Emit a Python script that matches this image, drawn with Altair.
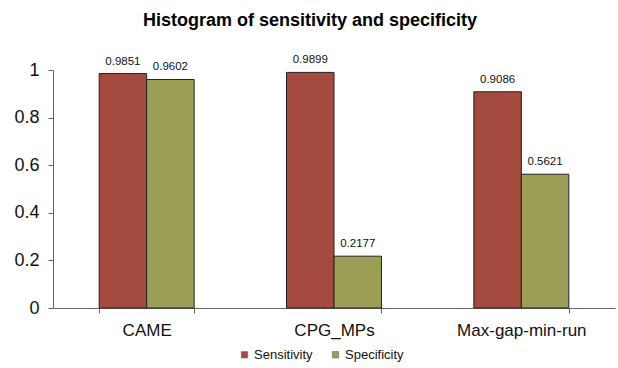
import altair as alt
import pandas as pd

methods = ["CAME", "CPG_MPs", "Max-gap-min-run"]
sensitivity = [0.9851, 0.9899, 0.9086]
specificity = [0.9602, 0.2177, 0.5621]
series = ["Sensitivity", "Specificity"]
colors = ["#A54A3E", "#9B9F55"]

rows = []
for m, s, p in zip(methods, sensitivity, specificity):
    rows.append({"method": m, "metric": "Sensitivity", "value": s, "label": f"{s:.4f}"})
    rows.append({"method": m, "metric": "Specificity", "value": p, "label": f"{p:.4f}"})
df = pd.DataFrame(rows)

FONT = "Liberation Sans"

x = alt.X("method:N", sort=methods, title=None,
          scale=alt.Scale(paddingInner=0.493, paddingOuter=0.2465),
          axis=alt.Axis(labelAngle=0, labelFontSize=17, labelFont=FONT, labelColor="#111",
                        tickBand="extent", tickSize=5, tickColor="#666", domainColor="#666",
                        labelPadding=9))
xo = alt.XOffset("metric:N", sort=series, scale=alt.Scale(paddingInner=0, paddingOuter=0))
y = alt.Y("value:Q", title=None,
          scale=alt.Scale(domain=[0, 1], nice=False),
          axis=alt.Axis(values=[0, 0.2, 0.4, 0.6, 0.8, 1], grid=False, labelFontSize=18,
                        labelFont=FONT, labelColor="#111", tickSize=5, tickColor="#666",
                        domainColor="#666", labelPadding=9,
                        labelExpr="datum.value == 0 ? '0' : datum.value == 1 ? '1' : format(datum.value, '.1f')"))

bars = alt.Chart(df).mark_bar(stroke="#222", strokeWidth=1).encode(
    x=x, xOffset=xo, y=y,
    color=alt.Color("metric:N", sort=series,
                    scale=alt.Scale(domain=series, range=colors),
                    legend=alt.Legend(title=None, orient="none", direction="horizontal",
                                      legendX=185, legendY=278, symbolType="square",
                                      symbolSize=40, symbolStrokeColor="#555", symbolStrokeWidth=0.5,
                                      labelFontSize=13, labelFont=FONT, labelColor="#111",
                                      columnPadding=16, labelOffset=3))
)

labels = alt.Chart(df).mark_text(fontSize=11.5, font=FONT, baseline="bottom", dy=-7, color="#111").encode(
    x=x, xOffset=xo, y=y, text="label:N"
)

chart = (bars + labels).properties(
    width=562, height=238,
    title=alt.TitleParams("Histogram of sensitivity and specificity", fontSize=18, font=FONT,
                          fontWeight="bold", anchor="middle", dx=-24, offset=24, color="#000"),
    autosize=alt.AutoSizeParams(type="none"),
    padding={"left": 53, "top": 70, "right": 3, "bottom": 60},
).configure_view(stroke=None)

chart.save("out.html", embed_options={"renderer": "svg", "actions": False})
